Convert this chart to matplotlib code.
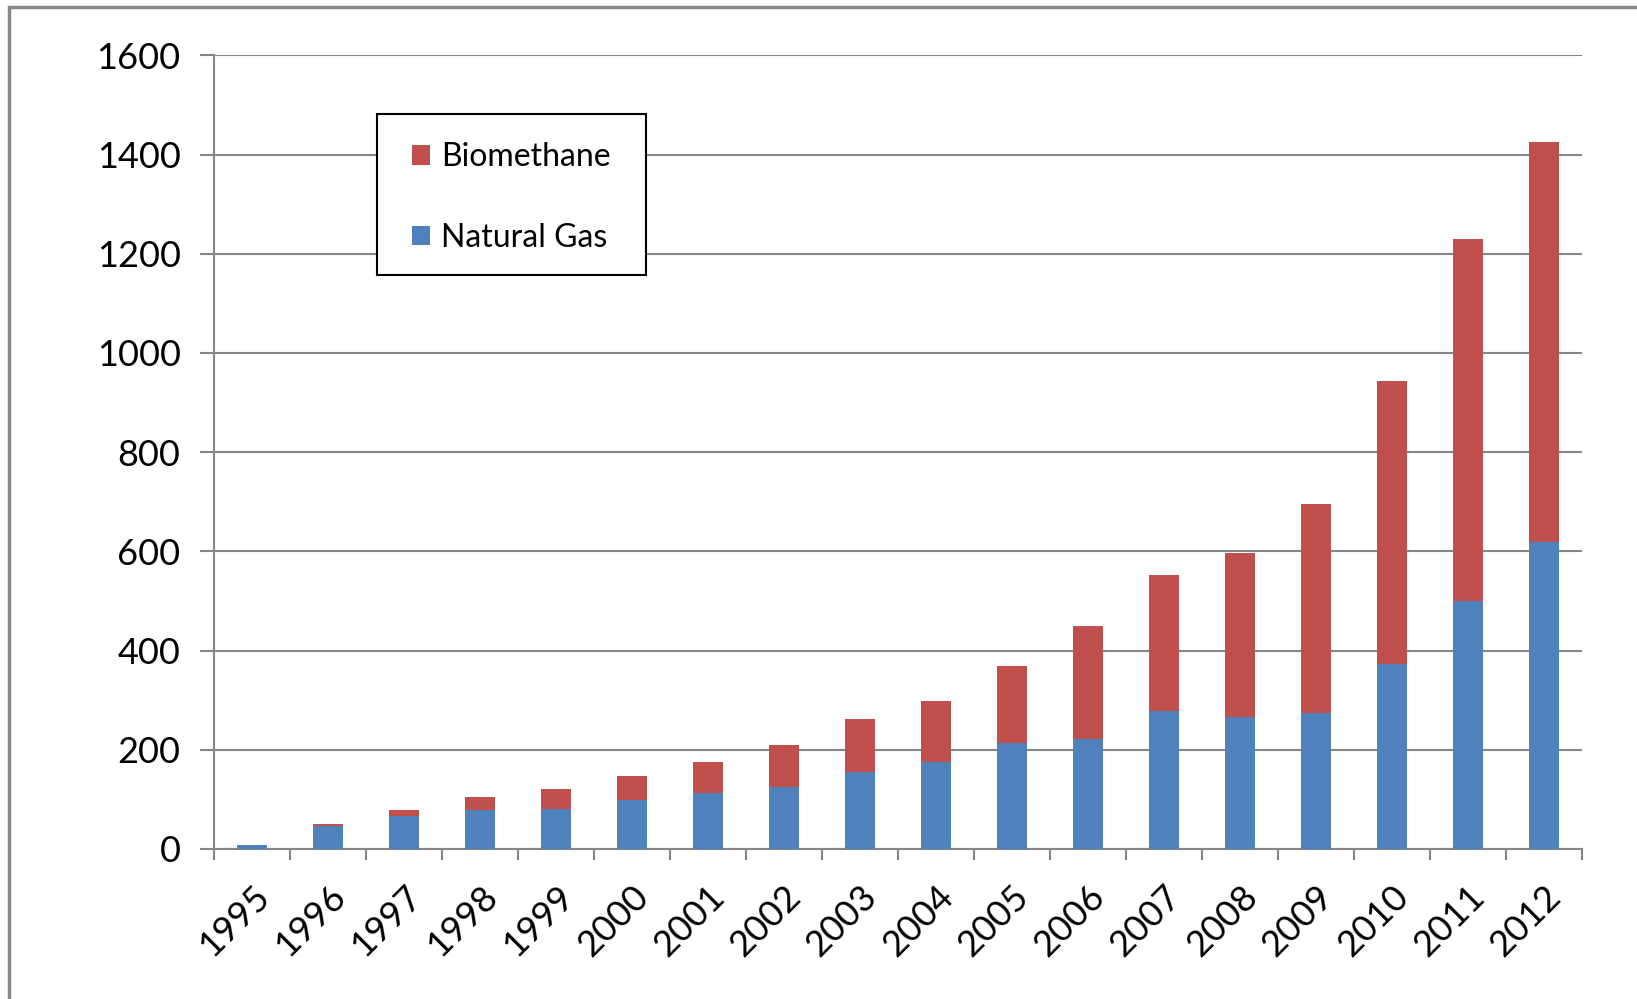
import matplotlib
matplotlib.use("Agg")
import matplotlib.pyplot as plt
from matplotlib.patches import Rectangle
import numpy as np

# values
years = ["1995", "1996", "1997", "1998", "1999", "2000", "2001", "2002", "2003",
         "2004", "2005", "2006", "2007", "2008", "2009", "2010", "2011", "2012"]
natural_gas = [8, 46, 67, 78, 81, 98, 112, 125, 156,
               175, 213, 221, 279, 267, 275, 372, 499, 619]
totals = [8, 51, 78, 104, 120, 148, 175, 209, 263,
          298, 368, 449, 553, 597, 696, 943, 1229, 1426]
biomethane = [t - n for t, n in zip(totals, natural_gas)]

yticks = [0, 200, 400, 600, 800, 1000, 1200, 1400, 1600]

BLUE = "#4F81BD"
RED = "#C0504D"
GREY = "#868686"

plt.rcParams["font.family"] = ["Lato", "DejaVu Sans"]

fig = plt.figure(figsize=(16.37, 9.99), dpi=100)
ax = fig.add_axes([0.1307, 0.1502, 0.8357, 0.7944])

x = np.arange(len(years))
ax.bar(x, natural_gas, width=0.4, color=BLUE, label="Natural Gas", zorder=3)
ax.bar(x, biomethane, width=0.4, bottom=natural_gas, color=RED,
       label="Biomethane", zorder=3)

ax.set_xlim(-0.5, len(years) - 0.5)
ax.set_ylim(0, 1600)
ax.set_yticks(yticks)
ax.set_yticklabels([str(v) for v in yticks])
ax.grid(axis="y", color=GREY, linewidth=1.5, zorder=0)

for side in ["top", "right"]:
    ax.spines[side].set_visible(False)
for side in ["left", "bottom"]:
    ax.spines[side].set_color(GREY)
    ax.spines[side].set_linewidth(1.5)

ax.tick_params(axis="y", length=10, width=1.5, color=GREY, pad=14,
               labelsize=26, labelcolor="black")

# category boundaries get the tick marks, labels sit under the bars
ax.set_xticks(x)
ax.set_xticklabels(years, rotation=45, ha="right", va="top",
                   rotation_mode="anchor", fontsize=26)
ax.set_xticks(np.arange(-0.5, len(years)), minor=True)
ax.tick_params(axis="x", which="major", length=0, pad=22)
ax.tick_params(axis="x", which="minor", length=8, width=1.5, color=GREY)

# legend box drawn by hand so its size matches the original
box_x0, box_y0, box_w, box_h = 0.119, 0.7237, 0.197, 0.2023
ax.add_patch(Rectangle((box_x0, box_y0), box_w, box_h, transform=ax.transAxes,
                       facecolor="white", edgecolor="black", linewidth=1.5,
                       zorder=4))

handles, labels = ax.get_legend_handles_labels()
leg = ax.legend(handles[::-1], labels[::-1], loc="center",
                bbox_to_anchor=(box_x0 + box_w / 2, box_y0 + box_h / 2 - 0.004),
                fontsize=23, frameon=False,
                handlelength=0.55, handleheight=0.55, handletextpad=0.35,
                labelspacing=1.58, borderpad=0, borderaxespad=0)
leg.set_zorder(5)

# outer chart border
fig.patches.append(Rectangle((9 / 1637, -0.2), 1.2, (999 - 7) / 999 + 0.2,
                             transform=fig.transFigure, fill=False,
                             edgecolor="#8a8a8a", linewidth=2.5))

fig.savefig("out.png", dpi=100)
